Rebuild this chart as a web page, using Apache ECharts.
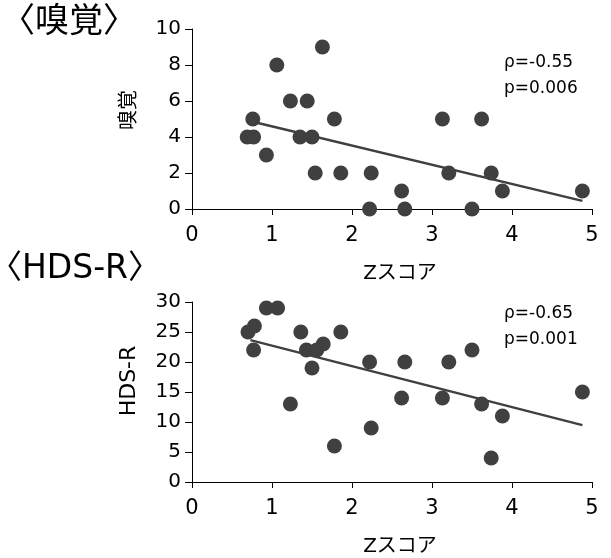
<!DOCTYPE html>
<html>
<head>
<meta charset="utf-8">
<title>chart</title>
<style>
  html, body { margin: 0; padding: 0; background: #fff; }
  #graph { width: 611px; height: 558px; }
</style>
</head>
<body>
<div id="graph"></div>
<script src="https://cdn.jsdelivr.net/npm/echarts@6/dist/echarts.min.js"></script>
<script>
// 嗅覚 vs Zスコア
const smellPoints = [
  [0.69, 4], [0.77, 4], [0.76, 5], [0.93, 3], [1.06, 8], [1.23, 6],
  [1.44, 6], [1.35, 4], [1.50, 4], [1.63, 9], [1.54, 2], [1.78, 5],
  [1.86, 2], [2.24, 2], [2.22, 0], [2.62, 1], [2.66, 0], [3.13, 5],
  [3.21, 2], [3.50, 0], [3.62, 5], [3.74, 2], [3.88, 1], [4.88, 1]
];
const smellTrend = [[0.76, 4.85], [4.88, 0.45]];

// HDS-R vs Zスコア
const hdsPoints = [
  [0.70, 25], [0.78, 26], [0.77, 22], [0.93, 29], [1.07, 29], [1.23, 13],
  [1.36, 25], [1.43, 22], [1.50, 19], [1.56, 22], [1.64, 23], [1.78, 6],
  [1.86, 25], [2.22, 20], [2.24, 9], [2.62, 14], [2.66, 20], [3.13, 14],
  [3.21, 20], [3.50, 22], [3.62, 13], [3.74, 4], [3.88, 11], [4.88, 15]
];
const hdsTrend = [[0.73, 23.65], [4.88, 9.48]];

const xTicks = [0, 1, 2, 3, 4, 5];
const smellStats = ['ρ=-0.55', 'p=0.006'];
const hdsStats = ['ρ=-0.65', 'p=0.001'];

const FONT = "'DejaVu Sans', 'Noto Sans CJK JP', sans-serif";
const INK = '#404040';

function xAxis(gridIndex) {
  return {
    gridIndex: gridIndex, type: 'value', min: xTicks[0], max: xTicks[xTicks.length - 1], interval: 1,
    name: 'Zスコア', nameLocation: 'middle', nameGap: 55,
    nameTextStyle: { color: '#000', fontSize: 20, fontFamily: FONT, padding: [0, 0, 0, 16] },
    axisLine: { onZero: false, lineStyle: { color: '#000', width: 1 } },
    axisTick: { show: true, length: 6, lineStyle: { color: '#000' } },
    axisLabel: { color: '#000', fontSize: 21, fontFamily: FONT, margin: 16 },
    splitLine: { show: false }
  };
}

function yAxis(gridIndex, max, interval, name, nameSize, shift) {
  return {
    gridIndex: gridIndex, type: 'value', min: 0, max: max, interval: interval,
    name: name, nameLocation: 'middle', nameGap: 52, nameRotate: 90,
    nameTextStyle: { color: '#000', fontSize: nameSize, fontFamily: FONT, padding: [0, 0, 0, shift] },
    axisLine: { show: true, onZero: false, lineStyle: { color: '#000', width: 1 } },
    axisTick: { show: true, length: 7, lineStyle: { color: '#000' } },
    axisLabel: { color: '#000', fontSize: 20, fontFamily: FONT, margin: 11 },
    splitLine: { show: false }
  };
}

function statText(lines, top) {
  return lines.map((t, i) => ({
    type: 'text', left: 504, top: top + i * 26,
    style: { text: t, fill: '#000', font: '17px ' + FONT }
  }));
}

let chart = echarts.init(document.getElementById('graph'));
chart.setOption({
  animation: false,
  grid: [
    { left: 192, top: 29, width: 400, height: 180 },
    { left: 192, top: 302, width: 400, height: 180 }
  ],
  xAxis: [xAxis(0), xAxis(1)],
  yAxis: [yAxis(0, 10, 2, '嗅覚', 20, 18), yAxis(1, 30, 5, 'HDS-R', 22, 22)],
  graphic: [
    { type: 'text', x: 1, y: 6, style: { text: '〈嗅覚〉', fill: '#000', font: '34px ' + FONT, verticalAlign: 'top' } },
    { type: 'text', x: -11, y: 253, style: { text: '〈HDS-R〉', fill: '#000', font: '33px ' + FONT, verticalAlign: 'top' } }
  ].concat(statText(smellStats, 54), statText(hdsStats, 305)),
  series: [
    {
      type: 'scatter', xAxisIndex: 0, yAxisIndex: 0, data: smellPoints,
      symbolSize: 15, itemStyle: { color: INK, opacity: 1 }, z: 3
    },
    {
      type: 'line', xAxisIndex: 0, yAxisIndex: 0, data: smellTrend,
      symbol: 'none', lineStyle: { color: INK, width: 2.5 }, z: 2
    },
    {
      type: 'scatter', xAxisIndex: 1, yAxisIndex: 1, data: hdsPoints,
      symbolSize: 15, itemStyle: { color: INK, opacity: 1 }, z: 3
    },
    {
      type: 'line', xAxisIndex: 1, yAxisIndex: 1, data: hdsTrend,
      symbol: 'none', lineStyle: { color: INK, width: 2.5 }, z: 2
    }
  ]
});
</script>
</body>
</html>
